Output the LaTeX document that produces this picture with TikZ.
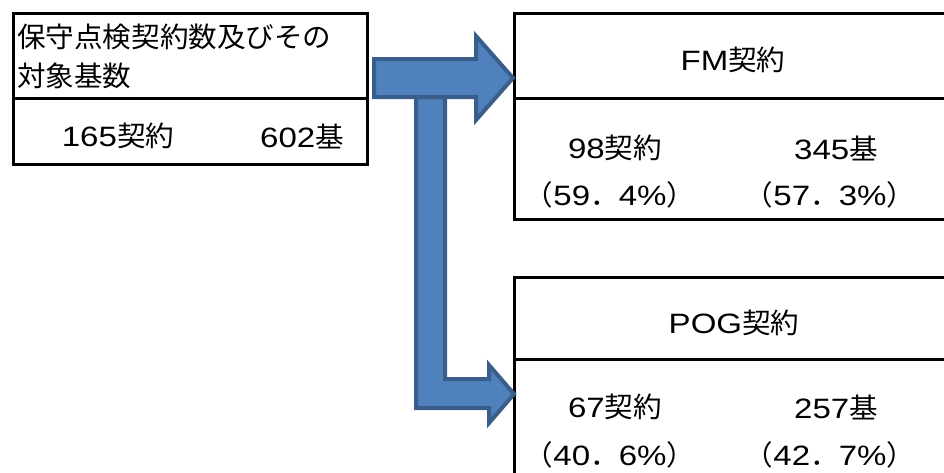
\documentclass[tikz,border=0pt]{standalone}
\usepackage{fontspec}
\setmainfont{Liberation Sans}[Scale=1.0, FakeStretch=1.18]
\newfontfamily\jp{Noto Sans CJK JP}[FakeStretch=1.02]
\begin{document}
\begin{tikzpicture}[x=1pt,y=-1pt,
  boxline/.style={draw=black,line width=3pt},
  blockarrow/.style={draw={rgb,255:red,58;green,94;blue,139},fill={rgb,255:red,79;green,129;blue,189},line width=4pt,line join=miter},
  txt/.style={inner sep=0pt,font=\fontsize{28}{32}\selectfont}]
\useasboundingbox (0,0) rectangle (944,472);
\clip (0,0) rectangle (944,472);
% boxes
\draw[boxline] (13.5,13.5) rectangle (367,164);
\draw[boxline] (13.5,98) -- (367,98);
\draw[boxline] (514.5,13.5) rectangle (960,219);
\draw[boxline] (514.5,98) -- (960,98);
\draw[boxline] (514.5,277) rectangle (960,490);
\draw[boxline] (514.5,359) -- (960,359);
% bent arrow (drawn first, under the straight one)
\draw[blockarrow] (416,97) -- (416,408) -- (489,408) -- (489,423) -- (514,394) -- (489,365) -- (489,379) -- (445,379) -- (445,97) -- cycle;
% straight arrow
\draw[blockarrow] (374,59) -- (476,59) -- (476,36) -- (513,78) -- (476,120) -- (476,97) -- (374,97) -- cycle;
% texts
\node[txt,anchor=west] (title1) at (17,37) {\jp 保守点検契約数及びその};
\node[txt,anchor=west] (title2) at (17,76) {\jp 対象基数};
\node[txt] (tc) at (118,136) {165{\jp 契約}};
\node[txt] (tb) at (302,136) {602{\jp 基}};
\node[txt] (fm) at (733,60) {FM{\jp 契約}};
\node[txt] (fmc) at (615,148) {98{\jp 契約}};
\node[txt] (fmb) at (836,148) {345{\jp 基}};
\node[txt] (fmcp) at (610,195) {{\jp （}59{\jp ．}4\%{\jp ）}};
\node[txt] (fmbp) at (830,195) {{\jp （}57{\jp ．}3\%{\jp ）}};
\node[txt] (pog) at (734,323) {POG{\jp 契約}};
\node[txt] (pogc) at (615,407) {67{\jp 契約}};
\node[txt] (pogb) at (836,407) {257{\jp 基}};
\node[txt] (pogcp) at (610,455) {{\jp （}40{\jp ．}6\%{\jp ）}};
\node[txt] (pogbp) at (830,455) {{\jp （}42{\jp ．}7\%{\jp ）}};
\end{tikzpicture}
\end{document}
